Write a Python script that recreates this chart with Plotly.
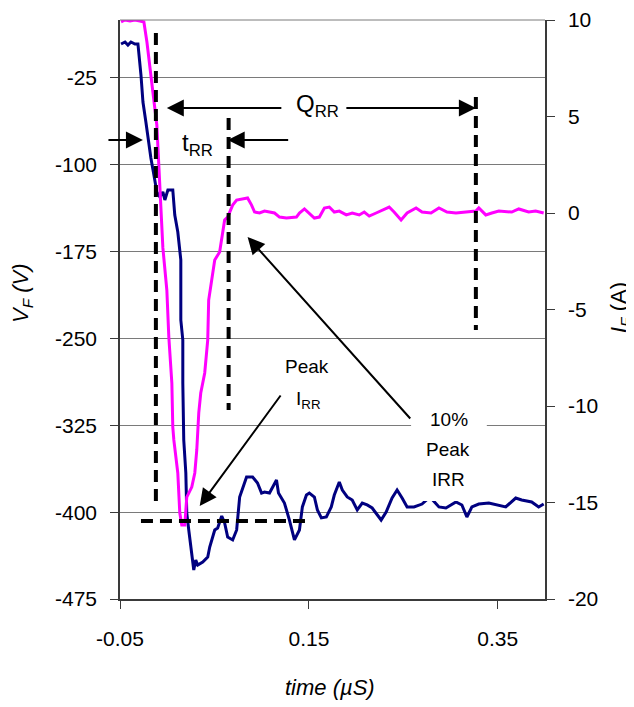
import plotly.graph_objects as go

# time axis in microseconds
vf_time = [-0.0489, -0.0447, -0.0416, -0.0384, -0.0342, -0.0310, -0.0278, -0.0257, -0.0226, -0.0204,
           -0.0173, -0.0141, -0.0110, -0.0078, -0.0046, -0.0025, 0.0007, 0.0059, 0.0080, 0.0112,
           0.0133, 0.0144, 0.0144, 0.0165, 0.0165, 0.0175, 0.0175, 0.0197, 0.0207, 0.0228,
           0.0260, 0.0281, 0.0302, 0.0323, 0.0376, 0.0429, 0.0450, 0.0503, 0.0534, 0.0577,
           0.0608, 0.0640, 0.0693, 0.0735, 0.0767, 0.0840, 0.0904, 0.0956, 0.0999, 0.1030,
           0.1083, 0.1115, 0.1157, 0.1178, 0.1241, 0.1294, 0.1347, 0.1400, 0.1431, 0.1474,
           0.1505, 0.1558, 0.1590, 0.1632, 0.1685, 0.1737, 0.1769, 0.1822, 0.1854, 0.1906,
           0.1959, 0.2012, 0.2065, 0.2117, 0.2170, 0.2265, 0.2318, 0.2381, 0.2434, 0.2487,
           0.2540, 0.2613, 0.2698, 0.2782, 0.2877, 0.2951, 0.3057, 0.3120, 0.3173, 0.3226,
           0.3299, 0.3405, 0.3511, 0.3584, 0.3690, 0.3753, 0.3859, 0.3933, 0.3986]
vf_volts = [4.3, 6.0, 3.4, 6.0, 4.3, 4.3, -22.5, -45.8, -63.1, -76.9,
            -94.2, -108.8, -123.5, -127.8, -123.5, -130.4, -121.8, -121.8, -143.4, -158.1,
            -177.9, -182.2, -234.1, -251.3, -288.5, -317.8, -337.7, -366.2, -400.7, -415.4,
            -438.7, -450.0, -441.3, -445.6, -443.0, -438.7, -430.1, -415.4, -413.7, -403.3,
            -409.4, -421.5, -424.0, -415.4, -386.9, -369.6, -369.6, -374.8, -383.5, -382.6,
            -383.5, -378.3, -372.2, -383.5, -392.1, -406.8, -424.0, -415.4, -395.5, -385.2,
            -383.5, -386.9, -398.1, -405.0, -404.2, -395.5, -385.2, -374.0, -380.9, -386.9,
            -389.5, -398.1, -392.1, -393.8, -396.4, -406.8, -399.9, -387.8, -380.9, -387.8,
            -395.5, -395.5, -393.0, -386.9, -395.5, -396.4, -391.2, -393.8, -404.2, -395.5,
            -393.0, -392.1, -393.8, -395.5, -387.8, -389.5, -391.2, -395.5, -393.0]

if_time = [-0.0489, -0.0447, -0.0394, -0.0342, -0.0289, -0.0247, -0.0215, -0.0183, -0.0152, -0.0110,
           -0.0088, -0.0067, -0.0046, -0.0004, 0.0017, 0.0049, 0.0059, 0.0070, 0.0112, 0.0133,
           0.0154, 0.0186, 0.0207, 0.0260, 0.0292, 0.0313, 0.0334, 0.0355, 0.0397, 0.0429,
           0.0439, 0.0471, 0.0503, 0.0555, 0.0577, 0.0608, 0.0640, 0.0693, 0.0735, 0.0851,
           0.0893, 0.0925, 0.0978, 0.1030, 0.1083, 0.1136, 0.1189, 0.1262, 0.1368, 0.1400,
           0.1453, 0.1505, 0.1558, 0.1611, 0.1664, 0.1716, 0.1769, 0.1822, 0.1896, 0.1959,
           0.2033, 0.2086, 0.2139, 0.2212, 0.2276, 0.2350, 0.2402, 0.2476, 0.2540, 0.2635,
           0.2698, 0.2793, 0.2877, 0.2962, 0.3057, 0.3162, 0.3268, 0.3299, 0.3373, 0.3437,
           0.3511, 0.3648, 0.3722, 0.3827, 0.3901, 0.3986]
if_amps = [9.9, 10.0, 9.95, 10.0, 9.95, 9.9, 8.86, 7.67, 6.27, 4.56,
           2.49, 0.78, -1.81, -3.99, -6.43, -8.81, -11.09, -11.76, -13.47, -15.54,
           -16.17, -16.17, -14.72, -14.20, -13.47, -12.28, -10.36, -9.33, -8.29, -6.58,
           -4.51, -3.47, -2.44, -2.02, -1.40, -0.36, -0.21, 0.41, 0.67, 0.78,
           0.41, 0.05, 0.00, 0.10, 0.05, 0.00, -0.21, -0.26, -0.21, 0.00,
           0.21, 0.00, -0.26, -0.21, 0.26, 0.31, 0.05, 0.10, -0.10, 0.00,
           -0.10, 0.05, -0.16, 0.00, 0.15, 0.31, 0.05, -0.36, 0.00, 0.26,
           0.05, 0.00, 0.26, 0.05, 0.00, 0.05, 0.10, 0.26, -0.10, 0.00,
           0.10, 0.05, 0.21, 0.05, 0.10, 0.00]

x_ticks = [-0.05, 0.15, 0.35]
x_ticktext = ["-0.05", "0.15", "0.35"]
vf_ticks = [-475, -400, -325, -250, -175, -100, -25]
vf_ticktext = ["-475", "-400", "-325", "-250", "-175", "-100", "-25"]
if_ticks = [-20, -15, -10, -5, 0, 5, 10]
if_ticktext = ["-20", "-15", "-10", "-5", "0", "5", "10"]

FONT = "Liberation Sans, Arial, sans-serif"
AX = "#3a3a3a"
GRID = "#7a7a7a"

fig = go.Figure()
fig.add_trace(go.Scatter(x=vf_time, y=vf_volts, mode="lines",
                         line=dict(color="#000080", width=3), yaxis="y"))
fig.add_trace(go.Scatter(x=if_time, y=if_amps, mode="lines",
                         line=dict(color="#FF00FF", width=3), yaxis="y2"))

dash = dict(color="black", width=4, dash="12px,7px")
shapes = [
    dict(type="line", xref="x", yref="y", x0=-0.012, x1=-0.012, y0=13.8, y1=-393.8, line=dash),
    dict(type="line", xref="x", yref="y", x0=0.065, x1=0.065, y0=-59.6, y1=-311.8, line=dash),
    dict(type="line", xref="x", yref="y", x0=0.3268, x1=0.3268, y0=-41.5, y1=-242.7, line=dash),
    dict(type="line", xref="x", yref="y", x0=-0.0278, x1=0.1484, y0=-407.6, y1=-407.6, line=dash),
    # white text box behind "10% Peak IRR"
    dict(type="rect", xref="x", yref="y", x0=0.2582, x1=0.3384, y0=-307.5, y1=-390.4,
         fillcolor="white", line=dict(width=0), layer="above"),
    # top border of plot area
    dict(type="line", xref="paper", yref="paper", x0=0, x1=1, y0=1, y1=1,
         line=dict(color=GRID, width=1)),
]

def arrow(x, y, ax, ay):
    return dict(x=x, y=y, xref="x", yref="y", ax=ax, ay=ay, text="", showarrow=True,
                arrowhead=2, arrowsize=1.7, arrowwidth=2, arrowcolor="black")

def label(x, y, txt, size):
    return dict(x=x, y=y, xref="x", yref="y", text=txt, showarrow=False,
                font=dict(family=FONT, size=size, color="black"))

def title(x, y, txt, angle):
    return dict(x=x, y=y, xref="paper", yref="paper", text=txt, showarrow=False,
                textangle=angle, xanchor="center", yanchor="middle",
                font=dict(family=FONT, size=22, color="black"))

annotations = [
    arrow(-0.0004, -51.0, 116, 0),
    arrow(0.3268, -51.0, -131, 0),
    arrow(-0.0257, -78.6, -36, 0),
    arrow(0.064, -78.6, 62, 0),
    arrow(0.0344, -394.7, 82, -112),
    arrow(0.0851, -162.4, 164, 183),
    label(0.159, -49.2, "Q<sub>RR</sub>", 24),
    label(0.0323, -82.1, "t<sub>RR</sub>", 24),
    label(0.1484, -273.8, "Peak", 19),
    label(0.1495, -303.1, "I<sub>RR</sub>", 19),
    label(0.2983, -320.4, "10%", 19),
    label(0.2972, -346.3, "Peak", 19),
    label(0.2983, -372.2, "IRR", 19),
    title(-0.2306, 0.5285, "<i>V<sub>F</sub> (V)</i>", -90),
    title(1.1765, 0.5026, "<i>I<sub>F</sub></i> (A)", -90),
    title(0.494, -0.1537, "<i>time (\u00b5S)</i>", 0),
]

# the page body adds an 8px margin, so the figure is 8px smaller than the window
fig.update_layout(
    width=626, height=699,
    margin=dict(l=112, r=89, t=12, b=108),
    plot_bgcolor="white", paper_bgcolor="white",
    showlegend=False,
    font=dict(family=FONT, size=21, color="black"),
    shapes=shapes,
    annotations=annotations,
    xaxis=dict(range=[-0.05, 0.40], tickvals=x_ticks, ticktext=x_ticktext, automargin=False,
               showgrid=False, zeroline=False, showline=True, linecolor=AX, linewidth=1.5,
               ticks="outside", ticklen=8, tickcolor=AX, ticklabelstandoff=12),
    yaxis=dict(range=[-475, 25], tickvals=vf_ticks, ticktext=vf_ticktext, automargin=False,
               showgrid=True, gridcolor=GRID, gridwidth=1,
               zeroline=False, showline=True, linecolor=AX, linewidth=1.5,
               ticks="outside", ticklen=8, tickcolor=AX, ticklabelstandoff=9),
    yaxis2=dict(range=[-20, 10], tickvals=if_ticks, ticktext=if_ticktext, automargin=False,
                overlaying="y", side="right", anchor="x",
                showgrid=False, zeroline=False, showline=True, linecolor=AX, linewidth=1.5,
                ticks="outside", ticklen=8, tickcolor=AX, ticklabelstandoff=9),
    yaxis3=dict(range=[-20, 10], tickvals=if_ticks, overlaying="y", side="right", anchor="x",
                automargin=False, showgrid=False, zeroline=False, showline=False,
                showticklabels=False, ticks="inside", ticklen=8, tickcolor=AX),
)

fig.write_html("out.html")
